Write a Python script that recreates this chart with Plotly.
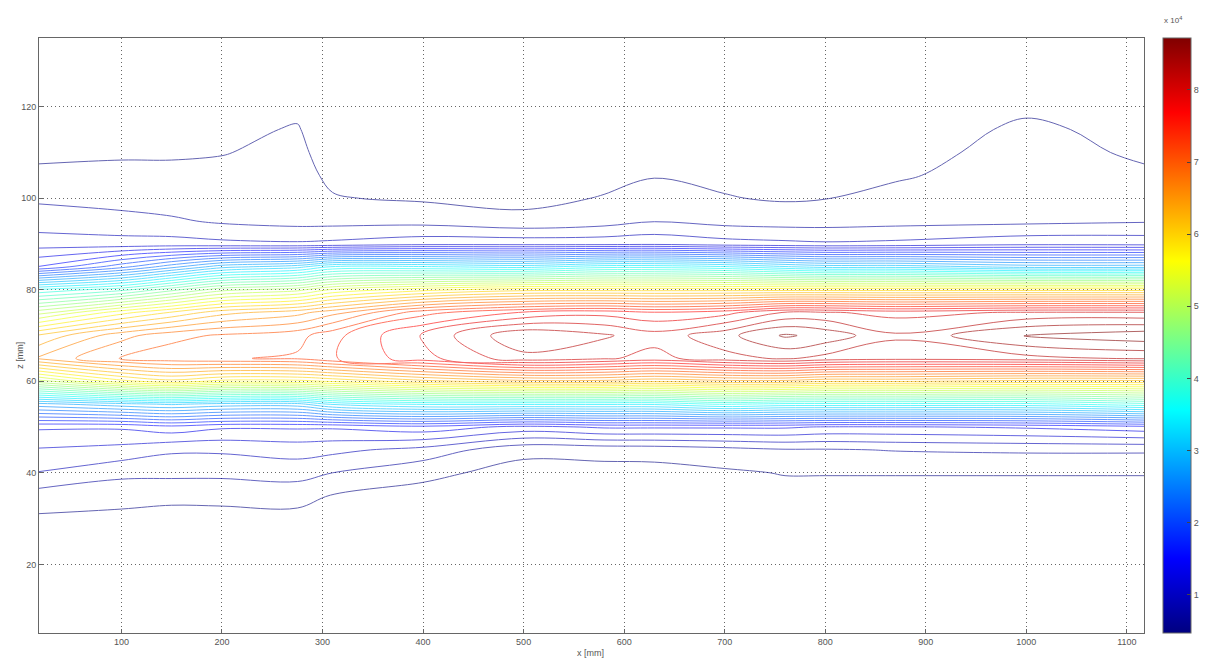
import plotly.graph_objects as go

# z positions (rows) in mm
z_mm = [5, 20, 30, 35, 40, 45, 50, 55, 60, 65, 70, 75, 80, 85, 90, 95, 100, 105, 110, 115, 120, 135]
# x positions (columns) in mm
x_mm = [18, 100, 150, 200, 275, 310, 400, 500, 580, 630, 700, 760, 800, 870, 1000, 1117]

# vertical profiles (values in units of 1e4), one per x column, ordered like z_mm
p_018 = [0.48, 0.55, 0.64, 0.78, 1.06, 1.25, 1.5, 2.8, 5.0, 6.5, 6.1, 5.0, 3.7, 1.68, 1.18, 0.96, 0.84, 0.69, 0.65, 0.62, 0.58, 0.50]
p_100 = [0.48, 0.55, 0.62, 0.74, 0.92, 1.2, 1.5, 3.0, 5.6, 6.88, 6.6, 5.6, 4.0, 2.2, 1.15, 0.93, 0.80, 0.69, 0.66, 0.63, 0.59, 0.50]
p_150 = [0.48, 0.55, 0.60, 0.72, 0.92, 1.1, 1.6, 3.1, 5.8, 7.0, 6.8, 5.9, 4.4, 2.6, 1.15, 0.90, 0.76, 0.69, 0.66, 0.64, 0.60, 0.50]
p_200 = [0.48, 0.55, 0.61, 0.72, 0.92, 1.1, 1.5, 3.0, 5.6, 7.05, 6.9, 6.2, 4.8, 3.0, 1.12, 0.84, 0.74, 0.70, 0.665, 0.64, 0.61, 0.50]
p_275 = [0.48, 0.55, 0.61, 0.74, 0.95, 1.15, 1.5, 3.0, 5.6, 7.1, 7.0, 6.4, 5.0, 3.2, 1.10, 0.80, 0.75, 0.72, 0.70, 0.68, 0.64, 0.50]
p_310 = [0.48, 0.53, 0.58, 0.66, 0.87, 1.12, 1.5, 3.3, 5.7, 7.25, 7.2, 6.6, 5.3, 3.5, 1.12, 0.80, 0.68, 0.64, 0.61, 0.58, 0.55, 0.48]
p_400 = [0.48, 0.52, 0.56, 0.60, 0.72, 1.0, 1.6, 3.5, 6.0, 7.6, 7.7, 7.2, 5.6, 3.5, 1.2, 0.80, 0.645, 0.61, 0.58, 0.55, 0.52, 0.47]
p_500 = [0.47, 0.50, 0.53, 0.55, 0.60, 0.72, 1.4, 3.5, 6.2, 8.0, 8.25, 7.5, 5.8, 3.4, 1.2, 0.72, 0.62, 0.59, 0.56, 0.53, 0.50, 0.46]
p_580 = [0.47, 0.50, 0.53, 0.55, 0.60, 0.74, 1.5, 3.5, 6.2, 7.9, 8.1, 7.6, 5.8, 3.6, 1.2, 0.78, 0.68, 0.62, 0.58, 0.54, 0.50, 0.46]
p_630 = [0.47, 0.50, 0.53, 0.55, 0.60, 0.75, 1.5, 3.5, 6.1, 7.8, 7.95, 7.5, 5.8, 3.6, 1.22, 0.86, 0.74, 0.66, 0.62, 0.58, 0.53, 0.47]
p_700 = [0.47, 0.50, 0.54, 0.57, 0.64, 0.80, 1.5, 3.7, 6.2, 8.0, 8.2, 7.6, 5.8, 3.5, 1.15, 0.80, 0.68, 0.63, 0.59, 0.55, 0.51, 0.46]
p_760 = [0.47, 0.51, 0.56, 0.60, 0.68, 0.85, 1.5, 3.6, 6.2, 8.1, 8.5, 7.9, 5.8, 3.3, 1.12, 0.78, 0.65, 0.61, 0.57, 0.53, 0.49, 0.45]
p_800 = [0.47, 0.51, 0.56, 0.60, 0.68, 0.85, 1.45, 3.6, 6.1, 8.0, 8.4, 7.9, 5.8, 3.2, 1.1, 0.78, 0.665, 0.62, 0.58, 0.54, 0.50, 0.45]
p_870 = [0.47, 0.51, 0.56, 0.60, 0.68, 0.88, 1.45, 3.6, 6.1, 7.95, 8.1, 7.8, 5.8, 3.2, 1.12, 0.80, 0.72, 0.65, 0.62, 0.58, 0.54, 0.46]
p_1000 = [0.48, 0.52, 0.56, 0.60, 0.68, 0.90, 1.5, 3.6, 6.0, 8.0, 8.5, 7.9, 5.8, 3.0, 1.21, 0.82, 0.78, 0.75, 0.72, 0.70, 0.64, 0.50]
p_1117 = [0.48, 0.52, 0.56, 0.60, 0.68, 0.90, 1.6, 3.8, 6.0, 8.1, 8.6, 7.9, 5.8, 3.0, 1.2, 0.85, 0.76, 0.69, 0.65, 0.62, 0.58, 0.48]

profiles = [p_018, p_100, p_150, p_200, p_275, p_310, p_400, p_500, p_580,
            p_630, p_700, p_760, p_800, p_870, p_1000, p_1117]

x_ticks = [100, 200, 300, 400, 500, 600, 700, 800, 900, 1000, 1100]
z_ticks = [20, 40, 60, 80, 100, 120]
cbar_ticks = [1, 2, 3, 4, 5, 6, 7, 8]
c_min, c_max = 0.47, 8.72

# grid z[row][col]
grid = [[profiles[c][r] for c in range(len(x_mm))] for r in range(len(z_mm))]

jet = [[0.0, "rgb(0,0,128)"], [0.125, "rgb(0,0,255)"], [0.375, "rgb(0,255,255)"],
       [0.625, "rgb(255,255,0)"], [0.875, "rgb(255,0,0)"], [1.0, "rgb(128,0,0)"]]

FONT = "Liberation Sans, Arial, sans-serif"
GRAY = "#555555"

fig = go.Figure()
fig.add_trace(go.Contour(
    x=x_mm, y=z_mm, z=grid,
    colorscale=jet, zmin=c_min, zmax=c_max, zauto=False,
    contours=dict(coloring="lines", start=0.67, end=8.47, size=0.2, showlabels=False),
    line=dict(width=1), showscale=False, opacity=0.6, hoverinfo="skip"))

# colorbar carrier
fig.add_trace(go.Scatter(
    x=[x_mm[0], x_mm[0]], y=[z_mm[0], z_mm[0]], mode="markers",
    marker=dict(size=0.1, opacity=0, color=[c_min, c_max], colorscale=jet,
                cmin=c_min, cmax=c_max, showscale=True,
                colorbar=dict(x=1.0172, xanchor="left", y=0.5, yanchor="middle",
                              len=1.0, lenmode="fraction", thickness=28,
                              xpad=0, ypad=0, outlinewidth=1, outlinecolor="#666",
                              tickvals=cbar_ticks, ticks="inside", ticklen=4,
                              tickcolor="#444",
                              tickfont=dict(size=9, color=GRAY, family=FONT))),
    showlegend=False, hoverinfo="skip"))

axis_common = dict(showgrid=True, gridcolor="#666", griddash="1px,3px", gridwidth=1,
                   showline=True, linecolor="#666", linewidth=1, mirror=True,
                   ticks="inside", ticklen=4, tickcolor="#666", zeroline=False,
                   tickfont=dict(size=9, color=GRAY, family=FONT))

fig.update_layout(
    width=1217, height=666,
    margin=dict(l=31, r=81, t=30, b=41),
    paper_bgcolor="white", plot_bgcolor="white",
    xaxis=dict(range=[18, 1117], tickvals=x_ticks, **axis_common),
    yaxis=dict(range=[5, 135], tickvals=z_ticks, **axis_common),
    showlegend=False,
    annotations=[
        dict(text="x 10<sup>4</sup>", x=1.036, y=1.042, xref="paper", yref="paper",
             showarrow=False, font=dict(size=8, color=GRAY, family=FONT)),
        dict(text="x [mm]", x=0.4995, y=-0.045, xref="paper", yref="paper",
             showarrow=False, font=dict(size=9, color=GRAY, family=FONT)),
        dict(text="z [mm]", x=-0.0235, y=0.466, xref="paper", yref="paper",
             showarrow=False, textangle=-90, font=dict(size=9, color=GRAY, family=FONT)),
    ],
)

fig.write_html("out.html")
